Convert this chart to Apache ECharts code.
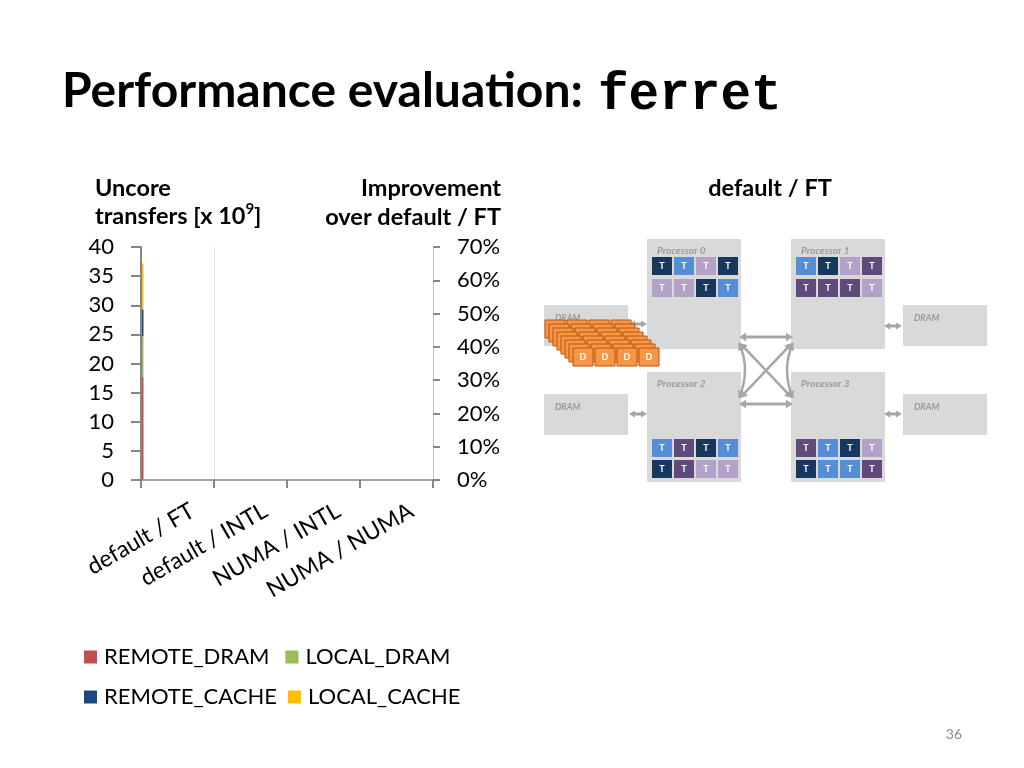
<!DOCTYPE html>
<html>
<head>
<meta charset="utf-8">
<title>Performance evaluation: ferret</title>
<script src="https://cdn.jsdelivr.net/npm/echarts@6/dist/echarts.min.js"></script>
<style>
html,body{margin:0;padding:0;background:#fff}
#main{width:1024px;height:768px}
</style>
</head>
<body>
<div id="main"></div>
<script>
// chart data (only the first configuration is drawn)
var categories = ['default / FT', 'default / INTL', 'NUMA / INTL', 'NUMA / NUMA']
var remoteDram = [17.7, null, null, null]
var localDram = [7.0, null, null, null]
var remoteCache = [4.6, null, null, null]
var localCache = [7.9, null, null, null]
var improvement = [null, null, null, null]
var leftMax = 40, leftStep = 5
var rightMax = 0.7, rightStep = 0.1

// thread placement in the diagram (n=navy, b=blue, l=lavender, p=purple)
var procNames = ['Processor 0', 'Processor 1', 'Processor 2', 'Processor 3']
var procThreads = [
  ['nbln', 'llnb'],
  ['bnlp', 'pppl'],
  ['bpnb', 'npll'],
  ['pbnl', 'nbbp']
]
var dataLayers = 8

var FONT = 'Lato, "Open Sans", sans-serif'
var tcol = { n: '#17375e', b: '#558ed5', l: '#b3a2c7', p: '#604a7b' }
var boxGray = '#d9d9d9', arrowGray = '#a6a6a6', labelGray = '#9a9a9a'

function rect(x, y, w, h, fill, stroke) {
  return { type: 'rect', shape: { x: x, y: y, width: w, height: h },
    style: { fill: fill, stroke: stroke || null, lineWidth: stroke ? 1 : 0 } }
}
function label(x, y, s, font, fill, align) {
  return { type: 'text', x: x, y: y,
    style: { text: s, font: font, fill: fill, align: align || 'left', verticalAlign: 'middle' } }
}
function head(tx, ty, ux, uy, size) {
  var nx = -uy, ny = ux
  return { type: 'polygon', shape: { points: [
    [tx, ty],
    [tx - ux * size + nx * size * 0.6, ty - uy * size + ny * size * 0.6],
    [tx - ux * size - nx * size * 0.6, ty - uy * size - ny * size * 0.6]
  ] }, style: { fill: arrowGray } }
}
function dblArrow(x1, y1, x2, y2, w, size) {
  var dx = x2 - x1, dy = y2 - y1, l = Math.sqrt(dx * dx + dy * dy)
  var ux = dx / l, uy = dy / l
  return [
    { type: 'line', shape: { x1: x1 + ux * size * 0.8, y1: y1 + uy * size * 0.8,
      x2: x2 - ux * size * 0.8, y2: y2 - uy * size * 0.8 },
      style: { stroke: arrowGray, lineWidth: w } },
    head(x1, y1, -ux, -uy, size),
    head(x2, y2, ux, uy, size)
  ]
}
function curveArrow(x1, y1, x2, y2, cx, cy, w, size) {
  var a = Math.atan2(y1 - cy, x1 - cx), b = Math.atan2(y2 - cy, x2 - cx)
  return [
    { type: 'bezierCurve', shape: { x1: x1, y1: y1, x2: x2, y2: y2, cpx1: cx, cpy1: cy },
      style: { stroke: arrowGray, lineWidth: w, fill: null } },
    head(x1, y1, Math.cos(a), Math.sin(a), size),
    head(x2, y2, Math.cos(b), Math.sin(b), size)
  ]
}

function buildDiagram() {
  var els = []
  var boxes = [[647, 239], [791, 239], [647, 372], [791, 372]]
  var cellRows = [[257, 279], [257, 279], [439, 460], [439, 460]]
  // DRAM boxes
  var drams = [[544, 305], [544, 394], [903, 305], [903, 394]]
  drams.forEach(function (d) {
    els.push(rect(d[0], d[1], 84, 41, boxGray))
    els.push(label(d[0] + 11, d[1] + 13, 'DRAM', 'italic bold 9px ' + FONT, labelGray))
  })
  // processor boxes
  boxes.forEach(function (b, i) {
    els.push(rect(b[0], b[1], 94, 110, boxGray))
    els.push(label(b[0] + 10, b[1] + 12, procNames[i], 'italic bold 10px ' + FONT, labelGray))
    procThreads[i].forEach(function (row, r) {
      for (var j = 0; j < 4; j++) {
        var cx = b[0] + 5 + j * 22, cy = cellRows[i][r]
        els.push(rect(cx, cy, 20, 18, tcol[row[j]]))
        els.push({ type: 'text', x: cx + 10, y: cy + 9,
          style: { text: 'T', font: 'bold 9px ' + FONT, fill: '#fff', align: 'center', verticalAlign: 'middle' } })
      }
    })
  })
  // interconnect
  els = els.concat(dblArrow(739, 337, 793, 337, 3, 7))
  els = els.concat(dblArrow(739, 404, 793, 404, 3, 7))
  els = els.concat(dblArrow(740, 343, 792, 398, 2.5, 7))
  els = els.concat(dblArrow(740, 398, 792, 343, 2.5, 7))
  els = els.concat(curveArrow(739, 343, 739, 398, 751, 370, 2.5, 7))
  els = els.concat(curveArrow(793, 343, 793, 398, 781, 370, 2.5, 7))
  // memory links
  els = els.concat(dblArrow(629, 324, 647, 324, 3, 6))
  els = els.concat(dblArrow(629, 414, 647, 414, 3, 6))
  els = els.concat(dblArrow(884, 326, 902, 326, 3, 6))
  els = els.concat(dblArrow(884, 414, 902, 414, 3, 6))
  // data pages stacked in the first DRAM
  for (var k = 0; k < dataLayers; k++) {
    var lx = 545 + k * 4, ly = 320 + k * 4
    for (var j = 0; j < 4; j++) {
      els.push(rect(lx + j * 22, ly, 20, 18, '#f79646', '#b5560f'))
      if (k === dataLayers - 1) {
        els.push({ type: 'text', x: lx + j * 22 + 10, y: ly + 9,
          style: { text: 'D', font: 'bold 9px ' + FONT, fill: '#fff', align: 'center', verticalAlign: 'middle' } })
      }
    }
  }
  return els
}

var texts = [
  label(62, 92, 'Performance evaluation:', 'bold 48px ' + FONT, '#000'),
  label(598, 96, 'ferret', 'bold 51px "Liberation Mono", "DejaVu Sans Mono", monospace', '#000'),
  label(95, 188, 'Uncore', 'bold 23.5px ' + FONT, '#000'),
  { type: 'text', x: 95, y: 216, style: {
    text: '{n|transfers [x 10}{s|9}{n|]}', align: 'left', verticalAlign: 'middle', fill: '#000',
    rich: { n: { font: 'bold 23.5px ' + FONT, lineHeight: 28 },
            s: { font: 'bold 15px ' + FONT, lineHeight: 15, verticalAlign: 'top' } } } },
  label(501, 188, 'Improvement', 'bold 23.5px ' + FONT, '#000', 'right'),
  label(501, 217, 'over default / FT', 'bold 23.5px ' + FONT, '#000', 'right'),
  { type: 'text', x: 770, y: 188, style: { text: 'default / FT', font: 'bold 23.5px ' + FONT, fill: '#000',
    align: 'center', verticalAlign: 'middle' } },
  label(962, 734, '36', '14px ' + FONT, '#8b8b8b', 'right')
]

var chart = echarts.init(document.getElementById('main'))
var legendText = { fontSize: 22, fontFamily: FONT, color: '#000', padding: [0, 0, 0, 2] }
var legendBase = { left: 84, icon: 'rect', itemWidth: 13, itemHeight: 13, padding: 0,
  selectedMode: false, textStyle: legendText }
var option = {
  animation: false,
  backgroundColor: '#fff',
  grid: [
    { left: 141, right: 591, top: 247, bottom: 288 },
    { left: 156, right: 576, top: 247, bottom: 288 }
  ],
  legend: [
    Object.assign({ data: ['REMOTE_DRAM', 'LOCAL_DRAM'], top: 646, itemGap: 16 }, legendBase),
    Object.assign({ data: ['REMOTE_CACHE', 'LOCAL_CACHE'], top: 686, itemGap: 11 }, legendBase)
  ],
  xAxis: [
    { type: 'category', gridIndex: 0, data: categories, boundaryGap: true,
      axisLine: { lineStyle: { color: '#868686', width: 1.5 } },
      axisTick: { show: true, interval: 0, length: 8, lineStyle: { color: '#868686', width: 2 } },
      axisLabel: { show: false, interval: 0 },
      splitLine: { show: true, interval: 0,
        lineStyle: { color: ['rgba(0,0,0,0)', '#e4e4e4', 'rgba(0,0,0,0)', 'rgba(0,0,0,0)', 'rgba(0,0,0,0)'], width: 1 } } },
    { type: 'category', gridIndex: 0, data: categories, boundaryGap: false, show: false },
    { type: 'category', gridIndex: 1, data: categories, boundaryGap: true,
      axisLine: { show: false }, axisTick: { show: false },
      axisLabel: { rotate: 30, margin: 29, interval: 0, fontSize: 23, fontFamily: FONT, color: '#000' } }
  ],
  yAxis: [
    { type: 'value', gridIndex: 0, min: 0, max: leftMax, interval: leftStep, position: 'left', z: 5,
      axisLine: { show: true, lineStyle: { color: '#868686', width: 2 } },
      axisTick: { show: true, length: 10, lineStyle: { color: '#868686', width: 2 } },
      axisLabel: { margin: 27, fontSize: 22, fontFamily: FONT, color: '#000' },
      splitLine: { show: false } },
    { type: 'value', gridIndex: 0, min: 0, max: rightMax, interval: rightStep, position: 'right',
      axisLine: { show: true, lineStyle: { color: '#c0c0c0', width: 1 } },
      axisTick: { show: true, length: 7, lineStyle: { color: '#868686', width: 2 } },
      axisLabel: { margin: 24, fontSize: 22, fontFamily: FONT, color: '#000',
        formatter: function (v) { return Math.round(v * 100) + '%' } },
      splitLine: { show: false } },
    { type: 'value', gridIndex: 1, show: false }
  ],
  series: [
    // empty spacer so the stacked bar sits just right of the value axis
    { name: 'spacer', type: 'bar', stack: 'pad', xAxisIndex: 1, yAxisIndex: 0, barWidth: 2, barGap: '0%',
      itemStyle: { color: 'rgba(0,0,0,0)' }, data: [0, null, null, null] },
    { name: 'REMOTE_DRAM', type: 'bar', stack: 'uncore', xAxisIndex: 1, yAxisIndex: 0, barWidth: 3, barGap: '0%',
      itemStyle: { color: '#c0504d' }, data: remoteDram },
    { name: 'LOCAL_DRAM', type: 'bar', stack: 'uncore', xAxisIndex: 1, yAxisIndex: 0, barWidth: 3,
      itemStyle: { color: '#9bbb59' }, data: localDram },
    { name: 'REMOTE_CACHE', type: 'bar', stack: 'uncore', xAxisIndex: 1, yAxisIndex: 0, barWidth: 3,
      itemStyle: { color: '#1f497d' }, data: remoteCache },
    { name: 'LOCAL_CACHE', type: 'bar', stack: 'uncore', xAxisIndex: 1, yAxisIndex: 0, barWidth: 3,
      itemStyle: { color: '#ffc000' }, data: localCache },
    { name: 'Improvement', type: 'line', xAxisIndex: 0, yAxisIndex: 1, data: improvement,
      symbol: 'none', lineStyle: { color: '#4f81bd' } }
  ],
  graphic: { elements: texts.concat(buildDiagram()) }
}
chart.setOption(option)
window.addEventListener('resize', function () { chart.resize() })
</script>
</body>
</html>
